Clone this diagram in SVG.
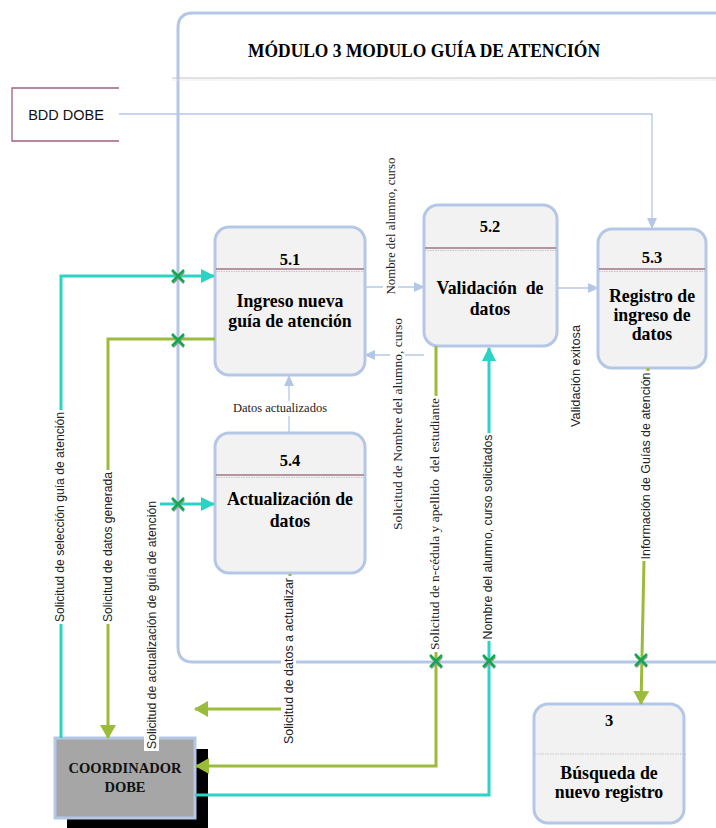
<svg xmlns="http://www.w3.org/2000/svg" width="716" height="828" viewBox="0 0 716 828">
<defs>
<style>
.node{fill:#f2f2f2;stroke:#b4c7e7;stroke-width:3}
.div1{stroke:#a07484;stroke-width:1.5}
.div2{stroke:#c4c4c4;stroke-width:1;stroke-dasharray:1.5 1}
.num{font-family:"Liberation Serif",serif;font-weight:bold;font-size:16.5px;fill:#000;text-anchor:middle}
.ttl{font-family:"Liberation Serif",serif;font-weight:bold;font-size:17.8px;fill:#000;text-anchor:middle}
.cy{stroke:#2bd3c5;stroke-width:3;fill:none}
.gr{stroke:#9bbb3a;stroke-width:3;fill:none}
.lb{stroke:#b4c7e7;stroke-width:1.3;fill:none}
.lser{font-family:"Liberation Serif",serif;font-size:12.5px;fill:#222;text-anchor:middle}
.lsan{font-family:"Liberation Sans Narrow","Liberation Sans",sans-serif;font-size:12px;fill:#222;text-anchor:middle}
.bg{fill:#fff}
.xm{stroke:#14a84c;stroke-width:2.5}
.xs{stroke:#9a9a9a;stroke-width:2.5}
</style>
<marker id="aCy" markerWidth="14" markerHeight="14" refX="13" refY="7" orient="auto" markerUnits="userSpaceOnUse"><path d="M0,0 L14,7 L0,14 Z" fill="#2bd3c5"/></marker>
<marker id="aGr" markerWidth="14" markerHeight="16" refX="13" refY="8" orient="auto" markerUnits="userSpaceOnUse"><path d="M0,0 L14,8 L0,16 Z" fill="#9bbb3a"/></marker>
<marker id="aLb" markerWidth="11" markerHeight="10" refX="10" refY="5" orient="auto" markerUnits="userSpaceOnUse"><path d="M0,0 L11,5 L0,10 Z" fill="#b4c7e7"/></marker>
</defs>
<rect width="716" height="828" fill="#fff"/>

<g id="module">
<path d="M716,13 L193,13 Q178,13 178,28 L178,647 Q178,662 193,662 L716,662" fill="none" stroke="#b4c7e7" stroke-width="3"/>
<line x1="172" y1="78" x2="716" y2="78" stroke="#c4c4c4" stroke-width="1"/>
<line x1="172" y1="80" x2="716" y2="80" stroke="#e2e2e2" stroke-width="1" stroke-dasharray="1.5 1"/>
<text x="424" y="57" font-family="Liberation Serif, serif" font-weight="bold" font-size="19" text-anchor="middle" textLength="352" lengthAdjust="spacingAndGlyphs">MÓDULO 3 MODULO GUÍA DE ATENCIÓN</text>
</g>

<g id="bdd">
<path d="M119,88 L12,88 L12,141 L119,141" fill="none" stroke="#a06080" stroke-width="1.3"/>
<text x="66" y="120" font-family="Liberation Sans, sans-serif" font-size="14.5" text-anchor="middle" fill="#111">BDD DOBE</text>
</g>

<g id="n51">
<rect class="node" x="215" y="227" width="150" height="148" rx="14"/>
<line class="div1" x1="216" y1="269" x2="364" y2="269"/>
<line class="div2" x1="216" y1="271.5" x2="364" y2="271.5"/>
<text class="num" x="290" y="265">5.1</text>
<text class="ttl" x="290" y="307">Ingreso nueva</text>
<text class="ttl" x="290" y="327">guía de atención</text>
</g>

<g id="n52">
<rect class="node" x="424" y="205" width="133" height="141" rx="14"/>
<line class="div1" x1="425" y1="248" x2="556" y2="248"/>
<line class="div2" x1="425" y1="250.5" x2="556" y2="250.5"/>
<text class="num" x="490" y="232">5.2</text>
<text class="ttl" x="490" y="294" xml:space="preserve">Validación  de</text>
<text class="ttl" x="490" y="315">datos</text>
</g>

<g id="n53">
<rect class="node" x="598" y="229" width="108" height="139" rx="14"/>
<line class="div1" x1="599" y1="269" x2="705" y2="269"/>
<line class="div2" x1="599" y1="271.5" x2="705" y2="271.5"/>
<text class="num" x="652" y="263">5.3</text>
<text class="ttl" x="652" y="302" font-size="17">Registro de</text>
<text class="ttl" x="652" y="321" font-size="17">ingreso de</text>
<text class="ttl" x="652" y="340" font-size="17">datos</text>
</g>

<g id="n54">
<rect class="node" x="215" y="433" width="150" height="140" rx="14"/>
<line class="div1" x1="216" y1="475" x2="364" y2="475"/>
<line class="div2" x1="216" y1="477.5" x2="364" y2="477.5"/>
<text class="num" x="290" y="466">5.4</text>
<text class="ttl" x="290" y="505">Actualización de</text>
<text class="ttl" x="290" y="527">datos</text>
</g>

<g id="n3">
<rect class="node" x="534" y="704" width="150" height="119" rx="14"/>
<line class="div2" x1="535" y1="754" x2="686" y2="754"/>
<text class="num" x="609" y="726">3</text>
<text class="ttl" x="609" y="779">Búsqueda de</text>
<text class="ttl" x="609" y="798">nuevo registro</text>
</g>

<g id="coordinador">
<rect x="67" y="749" width="141" height="79" fill="#000"/>
<rect x="55" y="738" width="140" height="80" fill="#a6a6a6" stroke="#b4c7e7" stroke-width="3"/>
<text x="125" y="773" font-family="Liberation Serif, serif" font-weight="bold" font-size="14.5" text-anchor="middle" fill="#111">COORDINADOR</text>
<text x="125" y="792" font-family="Liberation Serif, serif" font-weight="bold" font-size="14.5" text-anchor="middle" fill="#111">DOBE</text>
</g>

<g id="connectors">
<path class="lb" d="M119,114 L652,114 L652,228" marker-end="url(#aLb)"/>
<path class="lb" d="M365,287 L424,287" marker-end="url(#aLb)"/>
<path class="lb" d="M424,355 L365,355" marker-end="url(#aLb)"/>
<path class="lb" d="M557,288 L598,288" marker-end="url(#aLb)"/>
<path class="lb" d="M289,433 L289,376" marker-end="url(#aLb)"/>
<path class="cy" d="M61,738 L61,276 L214,276" marker-end="url(#aCy)"/>
<path class="gr" d="M215,339 L108,339 L108,738" marker-end="url(#aGr)"/>
<path class="cy" d="M160,504 L214,504" marker-end="url(#aCy)"/>
<path class="gr" d="M290,574 L290,709 L195,709" marker-end="url(#aGr)"/>
<path class="gr" d="M436,346 L436,766 L196,766" marker-end="url(#aGr)"/>
<path class="cy" d="M195,795 L489,795 L489,348" marker-end="url(#aCy)"/>
<path class="gr" d="M648,368 L641,704" marker-end="url(#aGr)"/>

<g id="markers">
<path class="xs" d="M173,272 L184,283 M184,272 L173,283"/>
<path class="xm" d="M172,270 L184,282 M184,270 L172,282"/>
<path class="xs" d="M173,336 L184,347 M184,336 L173,347"/>
<path class="xm" d="M172,334 L184,346 M184,334 L172,346"/>
<path class="xs" d="M173,500 L184,511 M184,500 L173,511"/>
<path class="xm" d="M172,498 L184,510 M184,498 L172,510"/>
<path class="xs" d="M431,657 L442,668 M442,657 L431,668"/>
<path class="xm" d="M430,655 L442,667 M442,655 L430,667"/>
<path class="xs" d="M484,657 L495,668 M495,657 L484,668"/>
<path class="xm" d="M483,655 L495,667 M495,655 L483,667"/>
<path class="xs" d="M636,656 L647,667 M647,656 L636,667"/>
<path class="xm" d="M635,654 L647,666 M647,654 L635,666"/>
</g>

<g id="labels">
<rect class="bg" x="228" y="401" width="104" height="15"/>
<text class="lser" x="280" y="412">Datos actualizados</text>

<g transform="translate(60,517) rotate(-90)"><rect class="bg" x="-107" y="-8" width="214" height="15"/><text class="lsan" x="0" y="4" textLength="210" lengthAdjust="spacingAndGlyphs">Solicitud de selección guía de atención</text></g>
<g transform="translate(108,547) rotate(-90)"><rect class="bg" x="-77" y="-8" width="154" height="15"/><text class="lsan" x="0" y="4" textLength="150" lengthAdjust="spacingAndGlyphs">Solicitud de datos generada</text></g>
<g transform="translate(152,625) rotate(-90)"><rect class="bg" x="-126" y="-8" width="252" height="15"/><text class="lsan" x="0" y="4" textLength="248" lengthAdjust="spacingAndGlyphs">Solicitud de actualización de guía de atención</text></g>
<g transform="translate(289,661) rotate(-90)"><rect class="bg" x="-85" y="-8" width="170" height="15"/><text class="lsan" x="0" y="4" textLength="166" lengthAdjust="spacingAndGlyphs">Solicitud de datos a actualizar</text></g>
<g transform="translate(391,226) rotate(-90)"><rect class="bg" x="-70" y="-8" width="140" height="15"/><text class="lser" x="0" y="4" textLength="137" lengthAdjust="spacingAndGlyphs">Nombre del alumno, curso</text></g>
<g transform="translate(398,424) rotate(-90)"><rect class="bg" x="-108" y="-8" width="216" height="15"/><text class="lser" x="0" y="4" textLength="212" lengthAdjust="spacingAndGlyphs">Solicitud de Nombre del alumno, curso</text></g>
<g transform="translate(435,524) rotate(-90)"><rect class="bg" x="-128" y="-8" width="256" height="15"/><text class="lser" x="0" y="4" textLength="252" lengthAdjust="spacingAndGlyphs" xml:space="preserve">Solicitud de n-cédula y apellido  del estudiante</text></g>
<g transform="translate(488,537) rotate(-90)"><rect class="bg" x="-104" y="-8" width="208" height="15"/><text class="lsan" x="0" y="4" textLength="205" lengthAdjust="spacingAndGlyphs">Nombre del alumno, curso solicitados</text></g>
<g transform="translate(576,376) rotate(-90)"><rect class="bg" x="-53" y="-8" width="106" height="15"/><text class="lsan" x="0" y="4" textLength="102" lengthAdjust="spacingAndGlyphs">Validación exitosa</text></g>
<g transform="translate(646,466) rotate(-90)"><rect class="bg" x="-95" y="-8" width="190" height="15"/><text class="lsan" x="0" y="4" textLength="187" lengthAdjust="spacingAndGlyphs">Información de Guías de atención</text></g>
</g>
</g>
</svg>
